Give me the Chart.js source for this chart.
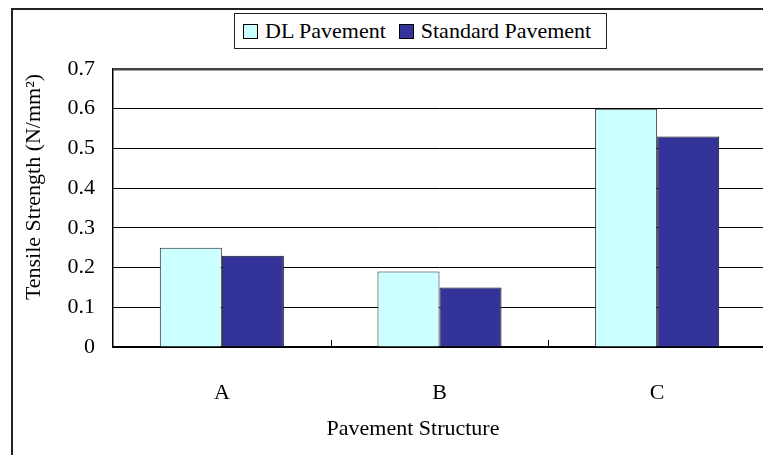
<!DOCTYPE html>
<html>
<head>
<meta charset="utf-8">
<script src="https://cdn.jsdelivr.net/npm/chart.js@4/dist/chart.umd.min.js"></script>
<style>
  html, body { margin: 0; padding: 0; background: #fff; overflow: hidden; width: 763px; height: 455px; }
  #frame { position: absolute; left: 11px; top: 8px; width: 900px; height: 600px; border: 2px solid #222; box-sizing: border-box; }
  #chart { position: absolute; left: 0; top: 0; }
  #legend { position: absolute; left: 234px; top: 13px; width: 373px; height: 36px; border: 1px solid #222;
            box-sizing: border-box; display: flex; align-items: center; justify-content: flex-start; padding-left: 8px;
            font-family: "Liberation Serif", "Times New Roman", serif; font-size: 22px; color: #000; background: #fff; white-space: nowrap; }
  #legend span.item { display: flex; align-items: center; margin-right: 13px; }
  #legend span.box { width: 15px; height: 15px; border: 1px solid #000; box-sizing: border-box; margin-right: 7px; }
</style>
</head>
<body>
<div id="frame"></div>
<canvas id="chart" width="800" height="455"></canvas>
<div id="legend"></div>
<script>
// chart data
const categories = ['A', 'B', 'C'];
const dlValues = [0.25, 0.19, 0.60];
const standardValues = [0.23, 0.15, 0.53];
const seriesNames = ['DL Pavement', 'Standard Pavement'];
const seriesColors = ['#CCFFFF', '#333399'];

const FONT = '"Liberation Serif", "Times New Roman", serif';

// legend in html
const legendEl = document.getElementById('legend');
seriesNames.forEach((name, i) => {
    const item = document.createElement('span');
    item.className = 'item';
    const box = document.createElement('span');
    box.className = 'box';
    box.style.background = seriesColors[i];
    item.appendChild(box);
    item.appendChild(document.createTextNode(name));
    legendEl.appendChild(item);
});

// axis titles and inner category ticks
const extras = {
    id: 'extras',
    afterDraw(chart) {
        const ctx = chart.ctx;
        const x = chart.scales.x;
        const area = chart.chartArea;
        ctx.save();
        ctx.strokeStyle = '#000';
        ctx.lineWidth = 1;
        for (let i = 1; i < categories.length; i++) {
            const px = Math.round((x.getPixelForValue(i - 1) + x.getPixelForValue(i)) / 2) + 0.5;
            ctx.beginPath();
            ctx.moveTo(px, area.bottom);
            ctx.lineTo(px, area.bottom - 7);
            ctx.stroke();
        }
        ctx.fillStyle = '#000';
        ctx.font = '22px ' + FONT;
        ctx.textAlign = 'center';
        ctx.textBaseline = 'middle';
        ctx.fillText('Pavement Structure', 413, 429);
        ctx.translate(34, 187);
        ctx.rotate(-Math.PI / 2);
        ctx.fillText('Tensile Strength (N/mm²)', 0, 0);
        ctx.restore();
    }
};

const ctx = document.getElementById('chart').getContext('2d');
new Chart(ctx, {
    type: 'bar',
    data: {
        labels: categories,
        datasets: [
            {
                label: seriesNames[0],
                data: dlValues,
                backgroundColor: seriesColors[0],
                borderColor: '#222',
                borderWidth: 1
            },
            {
                label: seriesNames[1],
                data: standardValues,
                backgroundColor: seriesColors[1],
                borderColor: '#111',
                borderWidth: 1
            }
        ]
    },
    options: {
        responsive: false,
        animation: false,
        devicePixelRatio: 1,
        layout: { padding: { left: 0, top: 69, right: 34, bottom: 0 } },
        plugins: {
            legend: { display: false },
            tooltip: { enabled: false }
        },
        datasets: {
            bar: { barPercentage: 1.0, categoryPercentage: 0.57 }
        },
        scales: {
            x: {
                grid: { display: false },
                border: { color: '#000', width: 1.5 },
                ticks: { color: '#000', font: { family: FONT, size: 22 }, padding: 25 },
                afterFit(scale) { scale.height = 108; }
            },
            y: {
                min: 0,
                max: 0.7,
                ticks: {
                    stepSize: 0.1,
                    color: '#000',
                    font: { family: FONT, size: 22 },
                    padding: 18,
                    callback: v => v === 0 ? '0' : v.toFixed(1)
                },
                grid: {
                    drawTicks: false,
                    color: ctx => ctx.tick && ctx.tick.value >= 0.7 ? '#444' : '#000',
                    lineWidth: ctx => ctx.tick && ctx.tick.value >= 0.7 ? 2.5 : 1
                },
                border: { color: '#000', width: 1.5 },
                afterFit(scale) { scale.width = 113; }
            }
        }
    },
    plugins: [extras]
});
</script>
</body>
</html>
